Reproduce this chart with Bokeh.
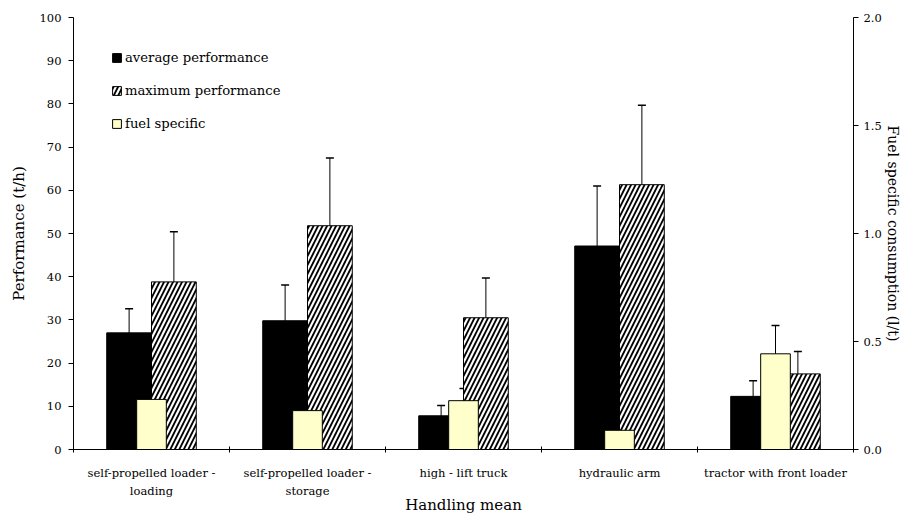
from bokeh.plotting import figure
from bokeh.models import (Range1d, LinearAxis, FixedTicker, Whisker, ColumnDataSource,
                          Legend, LegendItem, TeeHead, NumeralTickFormatter)
from bokeh.embed import file_html
from bokeh.resources import INLINE

# ---- data ----
categories = ["self-propelled loader -\nloading", "self-propelled loader -\nstorage",
              "high - lift truck", "hydraulic arm", "tractor with front loader"]
avg_perf = [27.0, 29.8, 7.8, 47.1, 12.3]
avg_perf_err = [5.6, 8.3, 2.4, 13.9, 3.6]
max_perf = [38.8, 51.8, 30.5, 61.3, 17.5]
max_perf_err = [11.6, 15.7, 9.2, 18.4, 5.2]
fuel = [0.232, 0.180, 0.226, 0.089, 0.443]
fuel_err = [0.052, 0.046, 0.056, 0.027, 0.131]
left_ticks = [0, 10, 20, 30, 40, 50, 60, 70, 80, 90, 100]
right_ticks = [0.0, 0.5, 1.0, 1.5, 2.0]

FONT = "DejaVu Serif"
BAR_W = 0.287
FUEL_W = 0.19

xs = [i + 0.5 for i in range(len(categories))]
x_avg = [x - BAR_W / 2 for x in xs]
x_max = [x + BAR_W / 2 for x in xs]

src = ColumnDataSource(dict(
    x=xs, x_avg=x_avg, x_max=x_max,
    avg=avg_perf, avg_up=[v + e for v, e in zip(avg_perf, avg_perf_err)],
    avg_lo=[v - e for v, e in zip(avg_perf, avg_perf_err)],
    mx=max_perf, mx_up=[v + e for v, e in zip(max_perf, max_perf_err)],
    mx_lo=[v - e for v, e in zip(max_perf, max_perf_err)],
    fuel=fuel, fuel_up=[v + e for v, e in zip(fuel, fuel_err)],
    fuel_lo=[v - e for v, e in zip(fuel, fuel_err)],
))

p = figure(width=903, height=516, x_range=Range1d(0, len(categories)),
           y_range=Range1d(0, 100), output_backend="svg", toolbar_location=None,
           min_border_left=73, min_border_right=40, min_border_top=17, min_border_bottom=67,
           background_fill_color="white", border_fill_color="white")
p.extra_y_ranges = {"fuel": Range1d(0, 2)}
p.outline_line_color = None
p.xgrid.visible = False
p.ygrid.visible = False

r_avg = p.vbar(x="x_avg", top="avg", width=BAR_W, source=src, fill_color="black",
               line_color="black", line_width=1)
r_max = p.vbar(x="x_max", top="mx", width=BAR_W, source=src, fill_color="white",
               line_color="black", line_width=1, hatch_pattern="/", hatch_color="black",
               hatch_weight=1.8, hatch_scale=9)
r_fuel = p.vbar(x="x", top="fuel", width=FUEL_W, source=src, fill_color="#FFFFCC",
                line_color="black", line_width=1, y_range_name="fuel")

def whisk(base, upper, lower, rng="default"):
    w = Whisker(base=base, upper=upper, lower=lower, source=src, line_color="black",
                line_width=1, y_range_name=rng,
                upper_head=TeeHead(size=8, line_color="black", line_width=1.5),
                lower_head=TeeHead(size=8, line_color="black", line_width=1.5))
    p.add_layout(w)

whisk("x_avg", "avg_up", "avg_lo")
whisk("x_max", "mx_up", "mx_lo")
whisk("x", "fuel_up", "fuel_lo", "fuel")

# x axis
xa = p.xaxis[0]
xa.ticker = FixedTicker(ticks=xs, minor_ticks=list(range(len(categories) + 1)))
xa.major_label_overrides = {x: c for x, c in zip(xs, categories)}
xa.major_tick_line_color = None
xa.major_tick_in = 0
xa.major_tick_out = 0
xa.minor_tick_in = 3
xa.minor_tick_out = 3
xa.minor_tick_line_color = "black"
xa.axis_line_color = "black"
xa.major_label_text_font = FONT
xa.major_label_text_font_size = "11.5px"
xa.major_label_text_color = "black"
xa.major_label_text_line_height = 1.3
xa.major_label_standoff = 13
xa.axis_label = "Handling mean"
xa.axis_label_text_font = FONT
xa.axis_label_text_font_size = "15px"
xa.axis_label_text_font_style = "normal"
xa.axis_label_text_color = "black"
xa.axis_label_standoff = -5

# left axis
ya = p.yaxis[0]
ya.ticker = FixedTicker(ticks=left_ticks)
ya.major_tick_in = 0
ya.major_tick_out = 5
ya.minor_tick_line_color = None
ya.major_label_text_font = FONT
ya.major_label_text_font_size = "11.5px"
ya.major_label_text_color = "black"
ya.major_label_standoff = 7
ya.axis_label = "Performance (t/h)"
ya.axis_label_text_font = FONT
ya.axis_label_text_font_size = "15px"
ya.axis_label_text_font_style = "normal"
ya.axis_label_text_color = "black"
ya.axis_label_standoff = 9

# right axis
ra = LinearAxis(y_range_name="fuel", ticker=FixedTicker(ticks=right_ticks),
                formatter=NumeralTickFormatter(format="0.0"))
ra.major_tick_in = 0
ra.major_tick_out = 5
ra.minor_tick_line_color = None
ra.major_label_text_font = FONT
ra.major_label_text_font_size = "11.5px"
ra.major_label_text_color = "black"
ra.major_label_standoff = 5
ra.axis_label = "Fuel specific consumption (l/t)"
ra.axis_label_text_font = FONT
ra.axis_label_text_font_size = "14px"
ra.axis_label_text_font_style = "normal"
ra.axis_label_text_color = "black"
ra.axis_label_standoff = 0
p.add_layout(ra, "right")

legend = Legend(items=[LegendItem(label="average performance", renderers=[r_avg]),
                       LegendItem(label="maximum performance", renderers=[r_max]),
                       LegendItem(label="fuel specific", renderers=[r_fuel])],
                location=(38, 318), glyph_width=11, glyph_height=11, label_height=11,
                spacing=18, padding=0, margin=0, label_standoff=3,
                label_text_font=FONT, label_text_font_size="13.2px",
                label_text_color="black",
                border_line_color=None, background_fill_alpha=0)
p.add_layout(legend, "center")

open("out.html", "w").write(file_html(p, INLINE))
